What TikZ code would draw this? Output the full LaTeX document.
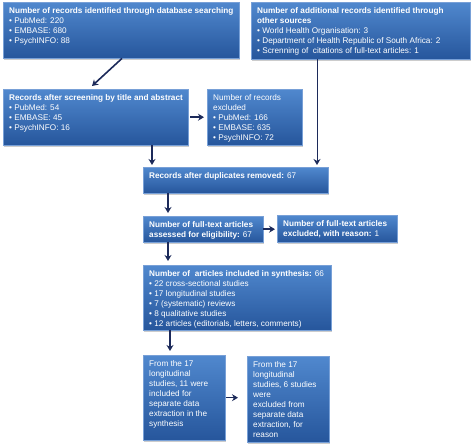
\documentclass[tikz,border=0pt]{standalone}
\usepackage{fontspec}
\setmainfont{Liberation Sans}
\usetikzlibrary{shadows,arrows.meta,calc}
\definecolor{boxtop}{RGB}{80,136,206}
\definecolor{boxbot}{RGB}{38,86,156}
\definecolor{boxedge}{RGB}{120,160,215}
\definecolor{arrowc}{RGB}{28,42,90}
\tikzset{
 fbox/.style={rectangle, top color=boxtop, bottom color=boxbot, draw=boxedge, line width=0.4pt,
   drop shadow={shadow xshift=1.2pt, shadow yshift=-1.5pt, opacity=0.4}, inner sep=0pt, anchor=north west},
 ftext/.style={anchor=north west, text=white, font=\fontsize{8.2}{10}\selectfont, align=left, inner sep=0pt},
 arr/.style={draw=arrowc, line width=1.6pt, -{Stealth[length=6pt,width=7pt]}},
 thinarr/.style={draw=arrowc, line width=1pt, -{Stealth[length=6pt,width=7pt]}},
}
\newcommand{\fbx}[6]{%
 \node[fbox, minimum width={#4pt-#2pt}, minimum height={#5pt-#3pt}] (#1) at (#2,#3) {};
 \node[ftext] (#1t) at ([xshift=6pt,yshift=-5pt]#1.north west) {#6};
}
\begin{document}
\begin{tikzpicture}[x=1pt,y=-1pt]
\useasboundingbox (0,0) rectangle (472,446);
\fbx{b1}{3}{2}{239}{58}{\textbf{Number of records identified through database searching}\\• PubMed: 220\\• EMBASE: 680\\• PsychINFO: 88}
\fbx{b2}{251}{2}{470}{59}{\textbf{Number of additional records identified through}\\\textbf{other sources}\\• World Health Organisation: 3\\• Department of Health Republic of South Africa: 2\\• Screnning of\ \ citations of full-text articles: 1}
\fbx{b3}{3}{89}{188}{145}{\textbf{Records after screening by title and abstract}\\• PubMed: 54\\• EMBASE: 45\\• PsychINFO: 16}
\fbx{b4}{207}{89}{302}{145}{Number of records\\excluded\\• PubMed: 166\\• EMBASE: 635\\• PsychINFO: 72}
\fbx{b5}{143}{167}{328}{193}{\textbf{Records after duplicates removed:} 67}
\fbx{b6}{143}{216}{263}{242}{\textbf{Number of full-text articles}\\\textbf{assessed for eligibility:} 67}
\fbx{b7}{277}{215}{397}{242}{\textbf{Number of full-text articles}\\\textbf{excluded, with reason:} 1}
\fbx{b8}{143}{265}{331}{330}{\textbf{Number of\ \ articles included in synthesis:} 66\\• 22 cross-sectional studies\\• 17 longitudinal studies\\• 7 (systematic) reviews\\• 8 qualitative studies\\• 12 articles (editorials, letters, comments)}
\fbx{b9}{143}{355}{225}{440}{From the 17\\longitudinal\\studies, 11 were\\included for\\separate data\\extraction in the\\synthesis}
\fbx{b10}{247}{356}{329}{442}{From the 17\\longitudinal\\studies, 6 studies\\were\\excluded from\\separate data\\extraction, for\\reason}
% connectors
\draw[arr] ([xshift=119pt]b1.south west) -- ([xshift=89pt,yshift=3pt]b3.north west);
\draw[arr] ([xshift=2pt]b3.east) -- ([xshift=-3pt]b4.west);
\draw[thinarr] ([xshift=66pt]b2.south west) -- ([xshift=174pt,yshift=2pt]b5.north west);
\draw[arr] ([xshift=149pt]b3.south west) -- ([xshift=9pt,yshift=2pt]b5.north west);
\draw[arr] ([xshift=25pt]b5.south west) -- ([xshift=25pt,yshift=3pt]b6.north west);
\draw[arr] (b6.east) -- ([xshift=-2pt]b7.west |- b6.east);
\draw[arr] ([xshift=25pt]b6.south west) -- ([xshift=25pt,yshift=4pt]b8.north west);
\draw[arr] ([xshift=27pt]b8.south west) -- ([xshift=27pt,yshift=4pt]b9.north west);
\draw[arr] ([xshift=1pt]b9.east) -- ([xshift=-9pt]b10.west |- b9.east);
\end{tikzpicture}
\end{document}
